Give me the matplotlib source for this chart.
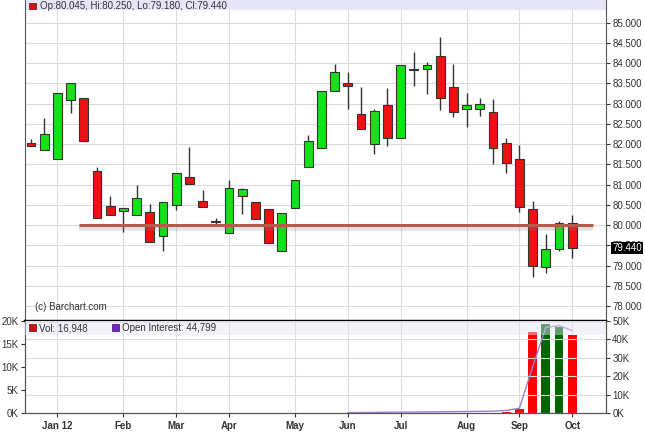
import numpy as np
import matplotlib.pyplot as plt
from matplotlib.patches import Rectangle
import matplotlib.transforms as mtransforms

plt.rcParams['font.family'] = ['Liberation Sans', 'DejaVu Sans']

# ------------------------------------------------------------
# weekly bars (index 0 = week of Dec 19, 2011)
# ------------------------------------------------------------
opens  = [82.02, 81.85, 81.63, 83.08, 83.15, 81.34, 80.47, 80.36, 80.24, 80.32,
          79.73, 80.49, 81.18, 80.59, 80.10, 79.80, 80.72, 80.57, 80.40, 79.36,
          80.43, 81.44, 81.90, 83.31, 83.50, 82.75, 82.01, 82.97, 82.15, 83.83,
          83.85, 84.18, 83.40, 82.88, 82.87, 82.80, 82.04, 81.63, 80.40, 78.98,
          79.42, 80.045]
highs  = [82.13, 82.64, 83.26, 83.52, 83.15, 81.43, 80.72, 80.42, 80.99, 80.52,
          80.57, 81.28, 81.94, 80.87, 80.19, 81.12, 80.93, 80.57, 80.40, 80.29,
          81.12, 82.23, 83.31, 83.98, 83.78, 83.40, 82.88, 83.38, 83.95, 84.28,
          84.04, 84.65, 83.98, 83.27, 83.13, 83.11, 82.16, 81.97, 80.60, 79.78,
          80.11, 80.25]
lows   = [81.96, 81.85, 81.63, 82.76, 82.09, 80.18, 80.24, 79.84, 80.24, 79.59,
          79.37, 80.38, 81.02, 80.45, 80.03, 79.80, 80.27, 80.15, 79.57, 79.36,
          80.43, 81.44, 81.90, 83.31, 82.87, 82.38, 81.76, 81.96, 82.15, 83.44,
          83.24, 82.84, 82.66, 82.43, 82.70, 81.51, 81.30, 80.32, 78.71, 78.83,
          79.37, 79.18]
closes = [81.96, 82.24, 83.26, 83.52, 82.09, 80.18, 80.24, 80.42, 80.66, 79.59,
          80.57, 81.28, 81.02, 80.45, 80.08, 80.93, 80.89, 80.15, 79.57, 80.29,
          81.12, 82.09, 83.31, 83.79, 83.44, 82.38, 82.82, 82.15, 83.95, 83.82,
          83.96, 83.15, 82.79, 82.96, 82.99, 81.90, 81.53, 80.44, 78.99, 79.41,
          80.05, 79.44]

# volume (thousands) and open interest (thousands)
vol_idx = [36, 37, 38, 39, 40, 41]
volume  = [0.2, 0.9, 17.7, 19.4, 18.7, 16.948]
oi_idx  = [24, 27, 30, 33, 35, 36, 37, 38, 39, 40, 41]
open_int = [0.2, 0.4, 0.6, 0.8, 1.0, 1.4, 2.6, 25.0, 46.5, 47.5, 44.799]

month_idx    = [2, 7, 11, 15, 20, 24, 28, 33, 37, 41]
month_labels = ['Jan 12', 'Feb', 'Mar', 'Apr', 'May', 'Jun', 'Jul', 'Aug', 'Sep', 'Oct']

support = 80.0

# ------------------------------------------------------------
W, H = 645, 440
fig = plt.figure(figsize=(W / 100, H / 100), dpi=100)

def fx(px):
    return px / W

def fy(py):
    return 1 - py / H

x0 = 31.0
step = 13.2
xlim = ((25 - x0) / step, (606 - x0) / step)

ax = fig.add_axes([fx(25), fy(321), fx(581), 321 / H])
axv = fig.add_axes([fx(25), fy(413), fx(581), 92 / H])

grid_c = '#dcdcdc'
edge_c = '#555555'

# ---------------- price panel ----------------
ax.set_xlim(*xlim)
ax.set_ylim(77.635, 85.56)
ax.set_yticks(np.arange(78, 85.01, 0.5))
ax.yaxis.tick_right()
ax.yaxis.set_major_formatter(plt.FormatStrFormatter('%.3f'))
ax.tick_params(axis='y', length=3, width=0.8, pad=1.5, labelsize=7, colors='#333333')
ax.set_xticks(month_idx)
ax.tick_params(axis='x', length=0, labelbottom=False)
ax.grid(True, color=grid_c, lw=0.8, zorder=0)
ax.set_axisbelow(True)
ax.spines['top'].set_visible(False)
ax.spines['left'].set_color(edge_c)
ax.spines['right'].set_color(edge_c)
ax.spines['bottom'].set_color('black')
ax.spines['bottom'].set_linewidth(1.6)

ax.add_patch(Rectangle((0, 1 - 10 / 321), 1, 10 / 321, transform=ax.transAxes,
                       facecolor='#e6e6f8', edgecolor='none', zorder=1))

w = 0.68
for i, (o, h, l, c) in enumerate(zip(opens, highs, lows, closes)):
    ax.vlines(i, l, h, color='#333333', lw=1.0, zorder=3)
    col = '#16e016' if c > o else '#ee1111'
    bh = max(abs(c - o), 0.03)
    ax.add_patch(Rectangle((i - w / 2, min(o, c)), w, bh, facecolor=col,
                           edgecolor='#333333', lw=0.8, zorder=4))

# support line with soft shadow
xs = [(79 - x0) / step, (593 - x0) / step]
for k, a in [(4.5, 0.10), (3.0, 0.15)]:
    ax.plot(xs, [support - 0.07, support - 0.07], color='gray', lw=k, alpha=a,
            solid_capstyle='butt', zorder=5)
ax.plot(xs, [support, support], color='#b65a4c', lw=2.2, solid_capstyle='butt', zorder=6)

# last price tag
trans = mtransforms.blended_transform_factory(ax.transAxes, ax.transData)
ax.text((612 - 25) / 581, closes[-1], '%.3f' % closes[-1], transform=trans,
        ha='left', va='center', fontsize=7, color='white',
        bbox=dict(boxstyle='square,pad=0.1', facecolor='black', edgecolor='none'),
        zorder=10, clip_on=False)

# header
fig.patches.append(Rectangle((fx(29), fy(9)), fx(7), 6 / H, transform=fig.transFigure,
                             facecolor='#cc1111', edgecolor='#661111', lw=0.5))
fig.text(fx(40), fy(6), 'Op:80.045, Hi:80.250, Lo:79.180, Cl:79.440',
         fontsize=7, color='#333333', va='center', ha='left')
fig.text(fx(35), fy(307), '(c) Barchart.com', fontsize=7, color='#333333',
         va='center', ha='left')

# ---------------- volume panel ----------------
axv.set_xlim(*xlim)
axv.set_ylim(0, 20)
axv.set_yticks([0, 5, 10, 15, 20])
axv.set_yticklabels(['0K', '5K', '10K', '15K', '20K'])
axv.tick_params(axis='y', length=3, width=0.8, pad=1.5, labelsize=7, colors='#333333')
axv.set_xticks(month_idx)
axv.set_xticklabels(month_labels, fontweight='bold')
axv.tick_params(axis='x', length=3, width=0.8, pad=3, labelsize=7, colors='#333333')
axv.grid(True, axis='x', color=grid_c, lw=0.8)
axv.set_axisbelow(True)
axv.spines['top'].set_color('black')
axv.spines['top'].set_linewidth(1.6)
for s in ['left', 'right', 'bottom']:
    axv.spines[s].set_color(edge_c)

vcols = ['#ee1111', '#ee1111', '#ff0000', '#006600', '#006600', '#ff0000']
axv.bar(vol_idx, volume, width=0.66, color=vcols, zorder=3)

axo = axv.twinx()
axo.set_xlim(*xlim)
axo.set_ylim(0, 50)
axo.set_yticks([0, 10, 20, 30, 40, 50])
axo.set_yticklabels(['0K', '10K', '20K', '30K', '40K', '50K'])
axo.tick_params(axis='y', length=3, width=0.8, pad=1.5, labelsize=7, colors='#333333')
axo.grid(True, axis='y', color=grid_c, lw=0.8, zorder=0)
for s in ['left', 'right', 'bottom']:
    axo.spines[s].set_color(edge_c)
axo.spines['top'].set_visible(False)
axo.plot(oi_idx, open_int, color='#9a7fd0', lw=1.0, zorder=4)
axo.add_patch(Rectangle((0, 1 - 14 / 92), 1, 14 / 92, transform=axo.transAxes,
                        facecolor='#e4e4f8', edgecolor='none', alpha=0.45, zorder=5))

fig.patches.append(Rectangle((fx(29), fy(331)), fx(7), 7 / H, transform=fig.transFigure,
                             facecolor='#cc1111', edgecolor='#661111', lw=0.5, zorder=10))
fig.text(fx(39), fy(328), 'Vol: 16,948', fontsize=7, color='#333333', va='center', zorder=10)
fig.patches.append(Rectangle((fx(112), fy(331)), fx(7), 7 / H, transform=fig.transFigure,
                             facecolor='#7722cc', edgecolor='#331166', lw=0.5, zorder=10))
fig.text(fx(122), fy(328), 'Open Interest: 44,799', fontsize=7, color='#333333',
         va='center', zorder=10)

fig.savefig('out.png', dpi=100)
